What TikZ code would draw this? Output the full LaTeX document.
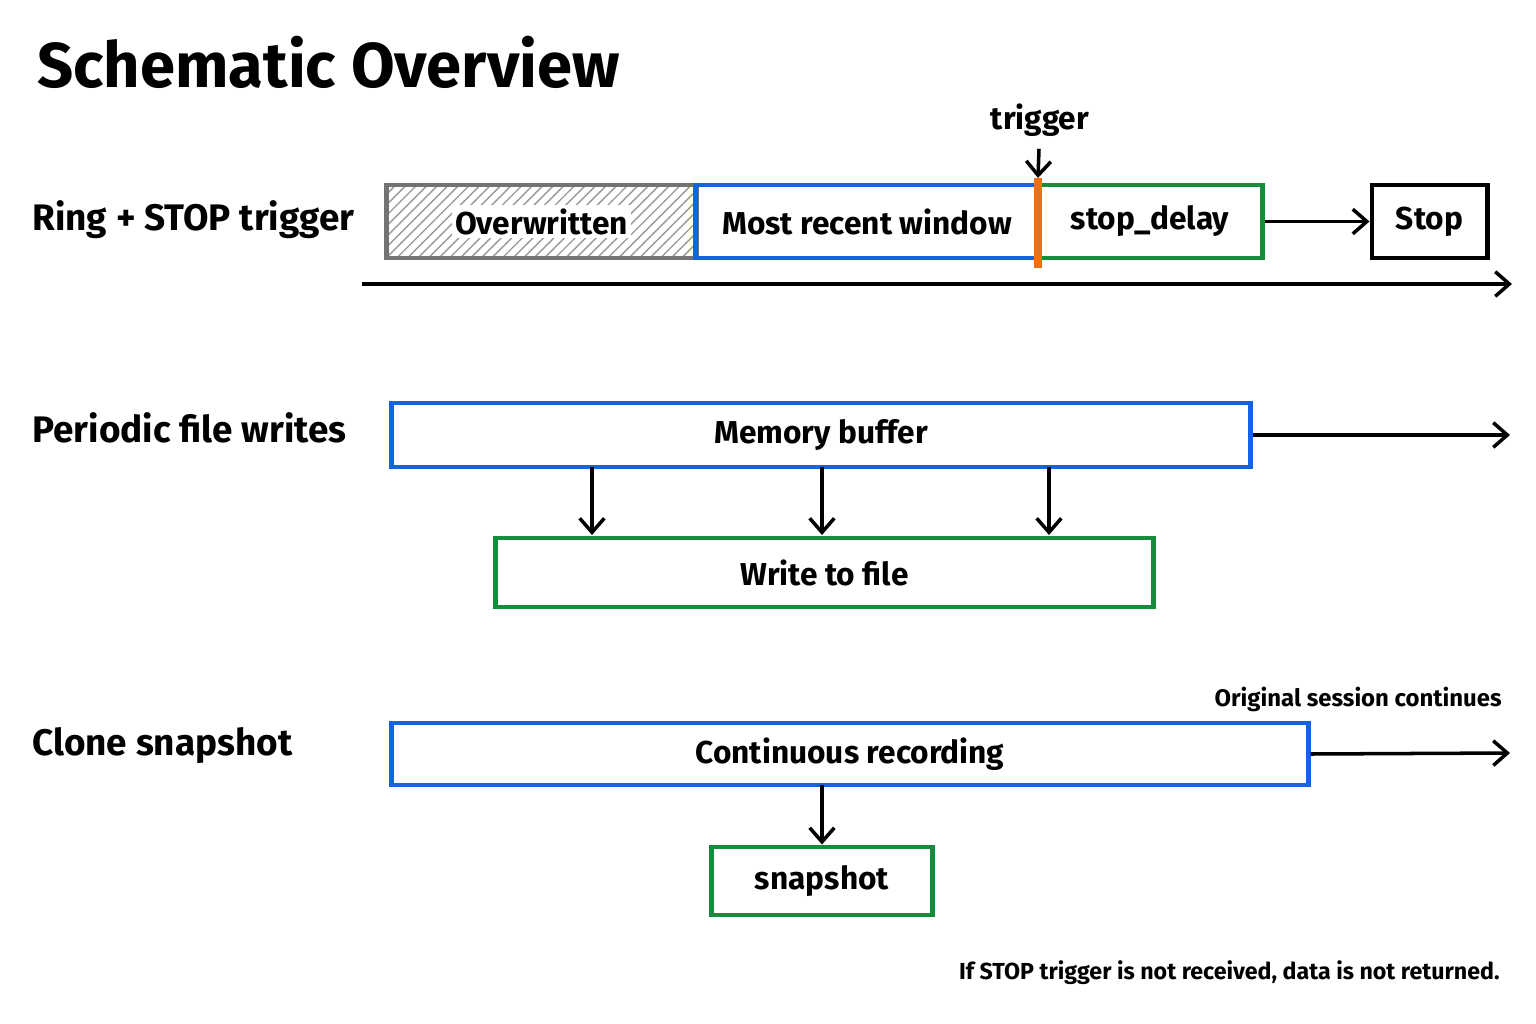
\documentclass[tikz,border=0pt]{standalone}
\usepackage{fontspec}
\setmainfont{Fira Sans}
\usepackage{tikz}
\definecolor{bufBlue}{RGB}{20, 100, 225}
\definecolor{fileGreen}{RGB}{20, 140, 60}
\definecolor{trigOrange}{RGB}{240, 110, 20}
\usetikzlibrary{arrows.meta, positioning, patterns}

\begin{document}
\begin{tikzpicture}[x=0.01cm, y=-0.01cm,
    blk/.style={rectangle, draw, line width=1.4pt, inner sep=0pt, font=\fontsize{9}{11}\selectfont\bfseries},
    bluebox/.style={blk, draw=bufBlue},
    greenbox/.style={blk, draw=fileGreen},
    rowlabel/.style={anchor=west, font=\fontsize{10.5}{12}\selectfont\bfseries},
    arrow/.style={-{Straight Barb[length=4pt, width=7pt]}, line width=1pt}
]
    \useasboundingbox (0,0) rectangle (1536,1024);
    \node[anchor=west, font=\fontsize{18}{22}\selectfont\bfseries] (title) at (25,62) {Schematic Overview};

    % ring buffer row
    \node[rowlabel] (ringlbl) at (20,220) {Ring + STOP trigger};
    \node[blk, draw=gray!90!black, pattern=north east lines, pattern color=gray!80, minimum width=3.09cm, minimum height=0.73cm] (over) at (541.5,221.5) {};
    \node[font=\fontsize{9}{11}\selectfont\bfseries, fill=white, inner sep=1pt] at (over) {Overwritten};
    \node[bluebox, minimum width=3.42cm, minimum height=0.73cm] (recent) at (867,221.5) {Most recent window};
    \node[greenbox, minimum width=2.24cm, minimum height=0.73cm] (delay) at (1150,221.5) {stop\_delay};
    \node[blk, minimum width=1.15cm, minimum height=0.73cm] (stop) at (1429.5,221.5) {Stop};
    \draw[trigOrange, line width=2pt] (1038,178) -- (1038,268);
    \node[font=\fontsize{9}{11}\selectfont\bfseries] (trig) at (1040,120) {trigger};
    \coordinate (trigtip) at (1038,178);
    \draw[arrow] (trig) -- (trigtip);
    \draw[arrow] (delay) -- (stop);
    \coordinate (t0) at (362,284);
    \coordinate (t1) at (1512,284);
    \draw[arrow] (t0) -- (t1);

    % periodic writes row
    \node[rowlabel] (perlbl) at (20,428) {Periodic file writes};
    \node[bluebox, minimum width=8.58cm, minimum height=0.64cm] (mem) at (821,435) {Memory buffer};
    \node[greenbox, minimum width=6.57cm, minimum height=0.69cm] (write) at (824.5,572.5) {Write to file};
    \coordinate (memend) at (1510,435);
    \draw[arrow] (mem.east) -- (memend);
    \foreach \xx in {592,822,1049}
        \draw[arrow] (\xx,467) -- (\xx,535);

    % clone row
    \node[rowlabel] (clonelbl) at (20,746) {Clone snapshot};
    \node[bluebox, minimum width=9.16cm, minimum height=0.62cm] (cont) at (850,754) {Continuous recording};
    \node[greenbox, minimum width=2.2cm, minimum height=0.68cm] (snap) at (822,881) {snapshot};
    \node[anchor=east, font=\fontsize{6.8}{8}\selectfont\bfseries] (orig) at (1514,699) {Original session continues};
    \coordinate (contend) at (1510,753);
    \draw[arrow] (cont.east) -- (contend);
    \draw[arrow] (822,785) -- (snap.north);

    \node[anchor=east, font=\fontsize{6.6}{8}\selectfont\bfseries] (note) at (1512,973) {If STOP trigger is not received, data is not returned.};
\end{tikzpicture}
\end{document}
